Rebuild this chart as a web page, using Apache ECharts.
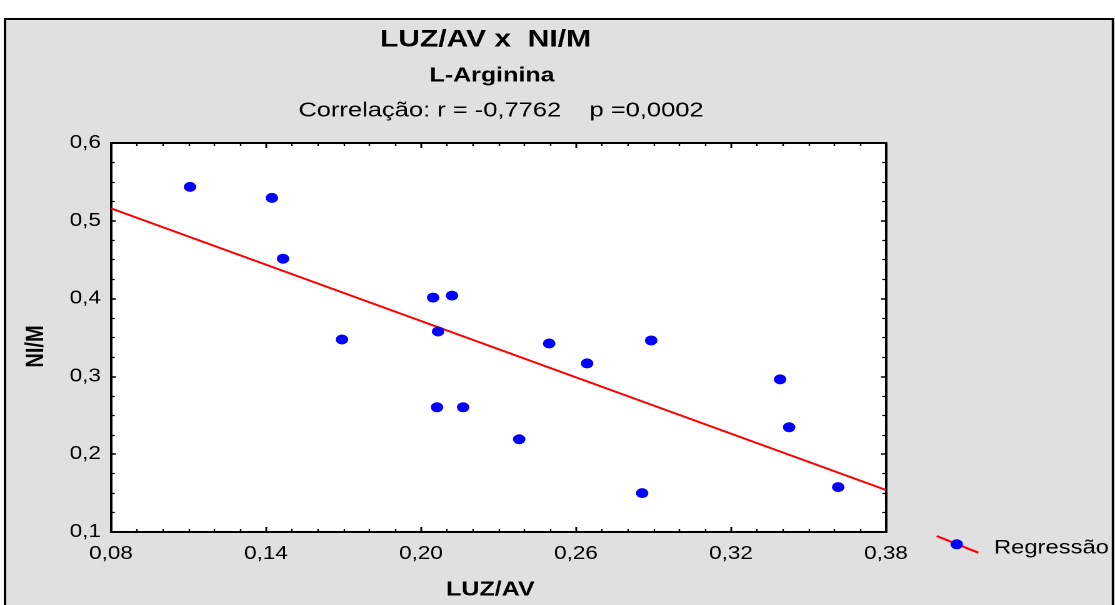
<!DOCTYPE html>
<html>
<head>
<meta charset="utf-8">
<script src="https://cdn.jsdelivr.net/npm/echarts@6/dist/echarts.min.js"></script>
<style>
  html, body { margin: 0; padding: 0; background: #ffffff; overflow: hidden; }
  /* The reference picture is horizontally stretched (~1.25x); reproduce that stretch */
  #main { width: 892px; height: 605px; transform: scaleX(1.25); transform-origin: 0 0; }
</style>
</head>
<body>
<div id="main"></div>
<script>
// ---- data ----
const luzAv = [0.1106, 0.1423, 0.1466, 0.1694, 0.2047, 0.2120, 0.2066, 0.2062, 0.2163, 0.2380, 0.2496, 0.2643, 0.2891, 0.2856, 0.3390, 0.3425, 0.3615];
const niM   = [0.5436, 0.5295, 0.4513, 0.3474, 0.4013, 0.4038, 0.3577, 0.2603, 0.2603, 0.2192, 0.3423, 0.3167, 0.3462, 0.1500, 0.2962, 0.2346, 0.1577];
const regX  = [0.08, 0.38];
const regY  = [0.516, 0.154];
const xTickValues = [0.08, 0.14, 0.20, 0.26, 0.32, 0.38];
const yTickValues = [0.1, 0.2, 0.3, 0.4, 0.5, 0.6];
const titleMain = 'LUZ/AV x  NI/M';
const titleSub = 'L-Arginina';
const titleCorr = 'Correlação: r = -0,7762    p =0,0002';
const xName = 'LUZ/AV';
const yName = 'NI/M';
const legendName = 'Regressão';

const FONT = "'Liberation Sans', Arial, Helvetica, sans-serif";
const S = 1.25; // horizontal stretch factor

const scatterData = luzAv.map((x, i) => [x, niM[i]]);
const regData = regX.map((x, i) => [x, regY[i]]);

const chart = echarts.init(document.getElementById('main'), null, { renderer: 'canvas', devicePixelRatio: 2 });

const fmtX = v => v.toFixed(2).replace('.', ',');
const fmtY = v => v.toFixed(1).replace('.', ',');

const axisCommonX = {
  type: 'value', min: xTickValues[0], max: xTickValues[xTickValues.length - 1], interval: 0.06,
  axisLine: { show: true, onZero: false, lineStyle: { color: '#000', width: 2 } },
  axisTick: { show: true, inside: true, length: 5, lineStyle: { color: '#000', width: 1.5 } },
  minorTick: { show: true, splitNumber: 6, length: 3, lineStyle: { color: '#000', width: 1.2 } },
  splitLine: { show: false }
};
const axisCommonY = {
  type: 'value', min: yTickValues[0], max: yTickValues[yTickValues.length - 1], interval: 0.1,
  axisLine: { show: true, onZero: false, lineStyle: { color: '#000', width: 2 } },
  axisTick: { show: true, inside: true, length: 4, lineStyle: { color: '#000', width: 1.5 } },
  minorTick: { show: true, splitNumber: 4, length: 3, lineStyle: { color: '#000', width: 1.2 } },
  splitLine: { show: false }
};

const option = {
  animation: false,
  backgroundColor: 'transparent',
  title: [
    { text: titleMain, left: 485.5 / S, top: 28, textAlign: 'center', padding: 0,
      textStyle: { fontSize: 24, fontWeight: 'bold', color: '#000', fontFamily: FONT } },
    { text: titleSub, left: 492 / S, top: 66, textAlign: 'center', padding: 0,
      textStyle: { fontSize: 20, fontWeight: 'bold', color: '#000', fontFamily: FONT } },
    { text: titleCorr, left: 501 / S, top: 101, textAlign: 'center', padding: 0,
      textStyle: { fontSize: 20.4, fontWeight: 'normal', color: '#000', fontFamily: FONT } }
  ],
  graphic: [
    { type: 'rect', z: -100, silent: true,
      shape: { x: 5 / S, y: 19, width: (1113 - 5) / S, height: 620 },
      style: { fill: '#e0e0e0', stroke: '#000', lineWidth: 2 } },
    { type: 'line', z: 10, silent: true,
      shape: { x1: 936.7 / S, y1: 536, x2: 978.3 / S, y2: 552.7 },
      style: { stroke: '#ff0000', lineWidth: 2 } },
    { type: 'circle', z: 11, silent: true,
      shape: { cx: 956.7 / S, cy: 544.3, r: 5 },
      style: { fill: '#0000ff' } },
    { type: 'text', z: 11, silent: true, left: 994 / S, top: 549 - 10,
      style: { text: legendName, fontSize: 19, fontFamily: FONT, fill: '#000' } }
  ],
  grid: {
    left: 111 / S, top: 143, width: 775 / S, height: 390,
    show: true, backgroundColor: '#ffffff', borderWidth: 0, containLabel: false
  },
  xAxis: [
    Object.assign({}, axisCommonX, {
      position: 'bottom',
      name: xName, nameLocation: 'middle', nameGap: 48,
      nameTextStyle: { fontSize: 20, fontWeight: 'bold', color: '#000', fontFamily: FONT, padding: [0, 13, 0, 0] },
      axisLabel: { show: true, margin: 13, fontSize: 18, color: '#000', fontFamily: FONT, formatter: fmtX,
                   showMinLabel: true, showMaxLabel: true }
    }),
    Object.assign({}, axisCommonX, { position: 'top', axisLabel: { show: false } })
  ],
  yAxis: [
    Object.assign({}, axisCommonY, {
      position: 'left',
      name: yName, nameLocation: 'middle', nameGap: 50, nameRotate: 90,
      nameTextStyle: { fontSize: 20, fontWeight: 'bold', color: '#000', fontFamily: FONT, padding: [0, 18, 0, 0] },
      axisLabel: { show: true, margin: 8, fontSize: 18, color: '#000', fontFamily: FONT, formatter: fmtY,
                   showMinLabel: true, showMaxLabel: true }
    }),
    Object.assign({}, axisCommonY, { position: 'right', axisLabel: { show: false } })
  ],
  series: [
    { name: legendName, type: 'line', xAxisIndex: 0, yAxisIndex: 0, data: regData,
      showSymbol: false, symbol: 'none', silent: true, z: 2,
      lineStyle: { color: '#ff0000', width: 2 } },
    { name: 'pontos', type: 'scatter', xAxisIndex: 0, yAxisIndex: 0, data: scatterData,
      symbol: 'circle', symbolSize: 10, z: 3,
      itemStyle: { color: '#0000ff', opacity: 1 } }
  ]
};
chart.setOption(option);
</script>
</body>
</html>
